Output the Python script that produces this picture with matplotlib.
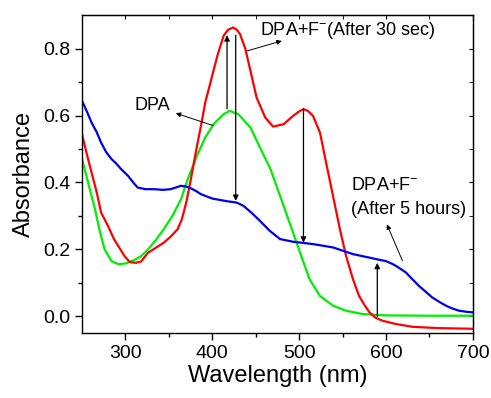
# UV-vis absorbance of DPA before and after fluoride addition

# IMPORTS
import matplotlib
matplotlib.use('Agg')
import matplotlib.pyplot as plt

# DATA
wl_red = [250, 256, 261, 267, 272, 280, 287, 293, 299, 305, 312, 318, 326,
          335, 344, 352, 360, 365, 370, 375, 381, 387, 392, 398, 406, 413,
          418, 424, 428, 432, 438, 444, 451, 461, 470, 482, 493, 501, 505,
          510, 516, 524, 531, 539, 547, 554, 562, 569, 575, 581, 588, 596,
          610, 630, 660, 700]
abs_red = [0.544, 0.48, 0.43, 0.37, 0.31, 0.27, 0.23, 0.205, 0.18, 0.162,
           0.16, 0.164, 0.19, 0.205, 0.22, 0.238, 0.26, 0.29, 0.34, 0.405,
           0.49, 0.57, 0.64, 0.70, 0.78, 0.838, 0.856, 0.863, 0.857, 0.843,
           0.80, 0.733, 0.654, 0.594, 0.567, 0.574, 0.599, 0.614, 0.619,
           0.614, 0.599, 0.549, 0.46, 0.36, 0.26, 0.181, 0.111, 0.061, 0.035,
           0.012, -0.004, -0.013, -0.022, -0.031, -0.035, -0.037]

wl_green = [250, 257, 265, 270, 276, 284, 292, 300, 310, 318, 326, 335, 344,
            354, 364, 371, 383, 392, 402, 413, 420, 430, 444, 455, 467, 478,
            489, 501, 512, 524, 539, 554, 573, 600, 650, 700]
abs_green = [0.47, 0.40, 0.32, 0.26, 0.20, 0.165, 0.156, 0.158, 0.168, 0.18,
             0.20, 0.228, 0.26, 0.30, 0.35, 0.405, 0.484, 0.535, 0.576, 0.604,
             0.614, 0.604, 0.564, 0.504, 0.44, 0.36, 0.28, 0.191, 0.111,
             0.061, 0.032, 0.017, 0.007, 0.003, 0.002, 0.002]

wl_blue = [250, 256, 261, 267, 272, 278, 284, 290, 295, 303, 309, 314, 323,
           333, 343, 352, 358, 364, 370, 375, 381, 387, 400, 417, 428, 436,
           445, 455, 466, 478, 493, 516, 539, 562, 589, 600, 608, 615, 623,
           630, 638, 646, 653, 661, 669, 676, 684, 692, 700]
abs_blue = [0.644, 0.61, 0.579, 0.55, 0.519, 0.49, 0.47, 0.455, 0.44, 0.42,
            0.40, 0.385, 0.38, 0.38, 0.378, 0.38, 0.385, 0.39, 0.388, 0.383,
            0.375, 0.365, 0.352, 0.344, 0.34, 0.33, 0.31, 0.285, 0.256,
            0.231, 0.223, 0.216, 0.206, 0.186, 0.171, 0.165, 0.156, 0.145,
            0.131, 0.112, 0.091, 0.073, 0.057, 0.044, 0.032, 0.024, 0.017,
            0.014, 0.012]

# annotation arrows: (x_start, y_start, x_end, y_end), head at end
arrows = [(417, 0.62, 417, 0.84),
          (427, 0.84, 427, 0.345),
          (505, 0.62, 505, 0.22),
          (590, 0.0, 590, 0.16)]
label_arrows = [(401, 0.57, 358, 0.607),
                (440, 0.793, 480, 0.823),
                (619, 0.166, 601, 0.275)]

plt.rcParams['font.family'] = ['Liberation Sans', 'DejaVu Sans']

fig = plt.figure(figsize=(4.91, 3.98), dpi=100)
ax = fig.add_axes([0.167, 0.163, 0.796, 0.799])

ax.plot(wl_green, abs_green, color='#00ee00', lw=1.6)
ax.plot(wl_red, abs_red, color='#ff0000', lw=1.6)
ax.plot(wl_blue, abs_blue, color='#0000ee', lw=1.6)

for x0, y0, x1, y1 in arrows:
    ax.annotate('', xy=(x1, y1), xytext=(x0, y0),
                arrowprops=dict(arrowstyle='-|>', color='black', lw=0.9,
                                mutation_scale=8, shrinkA=0, shrinkB=0))
for x0, y0, x1, y1 in label_arrows:
    ax.annotate('', xy=(x1, y1), xytext=(x0, y0),
                arrowprops=dict(arrowstyle='-|>', color='black', lw=0.7,
                                mutation_scale=7, shrinkA=0, shrinkB=0))

ax.text(331, 0.63, 'DPA', fontsize=13, ha='center', va='center')
ax.text(455, 0.853, 'DPA+F$^{\\mathregular{-}}$(After 30 sec)', fontsize=13,
        ha='left', va='center')
ax.text(560, 0.39, 'DPA+F$^{\\mathregular{-}}$', fontsize=13,
        ha='left', va='center')
ax.text(560, 0.32, '(After 5 hours)', fontsize=13, ha='left', va='center')

ax.set_xlim(250, 700)
ax.set_ylim(-0.05, 0.9)
ax.set_xticks([300, 400, 500, 600, 700])
ax.set_xticks([350, 450, 550, 650], minor=True)
ax.set_yticks([0.0, 0.2, 0.4, 0.6, 0.8])
ax.set_yticks([0.1, 0.3, 0.5, 0.7], minor=True)
ax.set_yticklabels(['0.0', '0.2', '0.4', '0.6', '0.8'])
ax.tick_params(which='major', direction='out', length=5, width=1,
               labelsize=14)
ax.tick_params(which='minor', direction='out', length=3, width=1)
for sp in ax.spines.values():
    sp.set_linewidth(1.0)

# ticks pointing inward on top and right, no labels
top = ax.secondary_xaxis('top')
top.set_xticks([300, 400, 500, 600, 700])
top.set_xticks([350, 450, 550, 650], minor=True)
top.tick_params(which='both', direction='in', length=3, labeltop=False)
right = ax.secondary_yaxis('right')
right.set_yticks([0.0, 0.2, 0.4, 0.6, 0.8])
right.set_yticks([0.1, 0.3, 0.5, 0.7], minor=True)
right.tick_params(which='both', direction='in', length=3, labelright=False)

ax.set_xlabel('Wavelength (nm)', fontsize=17, labelpad=2)
ax.set_ylabel('Absorbance', fontsize=17, labelpad=6)

plt.savefig('out.png', dpi=100)
plt.close()
